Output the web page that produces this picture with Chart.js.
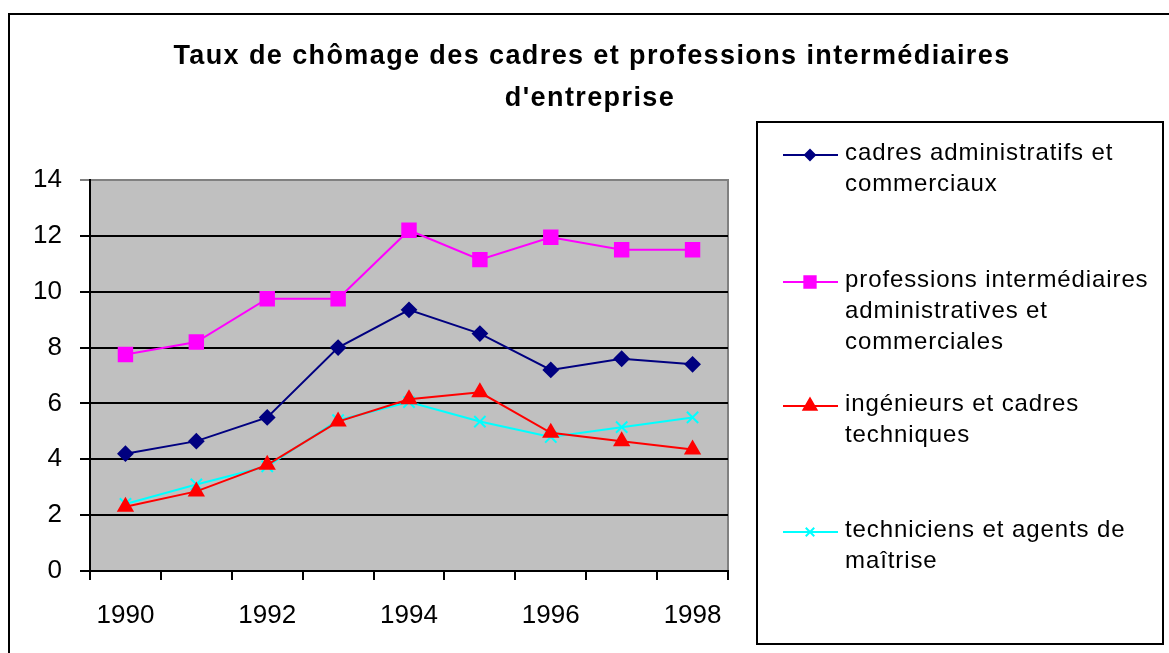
<!DOCTYPE html>
<html>
<head>
<meta charset="utf-8">
<script src="https://cdn.jsdelivr.net/npm/chart.js@4/dist/chart.umd.min.js"></script>
<style>
  html, body { margin: 0; padding: 0; background: #fff; }
  #wrap { width: 1169px; height: 653px; position: relative; }
</style>
</head>
<body>
<div id="wrap"><canvas id="chart" width="1169" height="653"></canvas></div>
<script>
// données
var annees = ['1990', '1991', '1992', '1993', '1994', '1995', '1996', '1997', '1998'];
var cadresAdmin = [4.2, 4.65, 5.5, 8.0, 9.35, 8.5, 7.2, 7.6, 7.4];
var profInter = [7.75, 8.2, 9.75, 9.75, 12.2, 11.15, 11.95, 11.5, 11.5];
var ingenieurs = [2.3, 2.85, 3.8, 5.35, 6.15, 6.4, 4.95, 4.65, 4.35];
var techniciens = [2.4, 3.1, 3.75, 5.4, 6.05, 5.35, 4.8, 5.15, 5.5];
var titre = ['Taux de chômage des cadres et professions intermédiaires', "d'entreprise"];
var libelles = [
  ['cadres administratifs et', 'commerciaux'],
  ['professions intermédiaires', 'administratives et', 'commerciales'],
  ['ingénieurs et cadres', 'techniques'],
  ['techniciens et agents de', 'maîtrise']
];
var ticksY = { min: 0, max: 14, pas: 2 };

var police = '"Liberation Sans", Arial, sans-serif';

// fond gris de la zone de tracé + cadre extérieur + titre
var decor = {
  id: 'decor',
  beforeDraw: function(chart) {
    var ctx = chart.ctx, a = chart.chartArea;
    ctx.save();
    ctx.fillStyle = '#fff';
    ctx.fillRect(0, 0, chart.width, chart.height);
    ctx.strokeStyle = '#000';
    ctx.lineWidth = 2;
    ctx.strokeRect(9, 14, 1200, 700);
    ctx.fillStyle = '#c0c0c0';
    ctx.fillRect(a.left, a.top, a.right - a.left, a.bottom - a.top);
    ctx.strokeStyle = '#808080';
    ctx.lineWidth = 2;
    ctx.beginPath();
    ctx.moveTo(a.left, a.top);
    ctx.lineTo(a.right, a.top);
    ctx.lineTo(a.right, a.bottom);
    ctx.stroke();
    ctx.fillStyle = '#000';
    ctx.font = 'bold 27px ' + police;
    if ('letterSpacing' in ctx) ctx.letterSpacing = '1.4px';
    ctx.textAlign = 'center';
    ctx.textBaseline = 'alphabetic';
    ctx.fillText(titre[0], 592, 64);
    ctx.fillText(titre[1], 590, 106);
    ctx.restore();
  },
  afterDraw: function(chart) {
    // légende dessinée à la main (libellés sur plusieurs lignes)
    var ctx = chart.ctx;
    ctx.save();
    ctx.strokeStyle = '#000';
    ctx.lineWidth = 2;
    ctx.strokeRect(757, 122, 406, 522);
    var lignesY = [155, 282, 406, 532];
    ctx.font = '24px ' + police;
    if ('letterSpacing' in ctx) ctx.letterSpacing = '0.9px';
    ctx.textAlign = 'left';
    ctx.textBaseline = 'alphabetic';
    chart.data.datasets.forEach(function(ds, i) {
      var y = lignesY[i];
      ctx.strokeStyle = ds.borderColor;
      ctx.lineWidth = 2;
      ctx.beginPath();
      ctx.moveTo(783, y);
      ctx.lineTo(838, y);
      ctx.stroke();
      ctx.fillStyle = ds.backgroundColor;
      ctx.strokeStyle = ds.borderColor;
      Chart.helpers.drawPoint(ctx, {
        pointStyle: ds.pointStyle,
        radius: ds.legendRadius,
        borderWidth: 2,
        rotation: 0
      }, 810, y);
      ctx.fillStyle = '#000';
      var lignes = libelles[i];
      for (var k = 0; k < lignes.length; k++) {
        ctx.fillText(lignes[k], 845, y + 5 + k * 31);
      }
    });
    ctx.restore();
  }
};

var ctx = document.getElementById('chart').getContext('2d');
var graphique = new Chart(ctx, {
  type: 'line',
  data: {
    labels: annees,
    datasets: [
      {
        label: libelles[0].join(' '),
        data: cadresAdmin,
        borderColor: '#000080',
        backgroundColor: '#000080',
        pointStyle: 'rectRot',
        pointRadius: 7,
        legendRadius: 5,
        borderWidth: 2
      },
      {
        label: libelles[1].join(' '),
        data: profInter,
        borderColor: '#ff00ff',
        backgroundColor: '#ff00ff',
        pointStyle: 'rect',
        pointRadius: 9.5,
        legendRadius: 8,
        borderWidth: 2
      },
      {
        label: libelles[2].join(' '),
        data: ingenieurs,
        borderColor: '#ff0000',
        backgroundColor: '#ff0000',
        pointStyle: 'triangle',
        pointRadius: 8,
        legendRadius: 7.5,
        borderWidth: 2
      },
      {
        label: libelles[3].join(' '),
        data: techniciens,
        borderColor: '#00ffff',
        backgroundColor: '#00ffff',
        pointStyle: 'crossRot',
        pointRadius: 8,
        legendRadius: 6,
        borderWidth: 2
      }
    ]
  },
  options: {
    responsive: false,
    animation: false,
    events: [],
    layout: { padding: { left: 0, top: 180, right: 441, bottom: 0 } },
    plugins: {
      legend: { display: false },
      title: { display: false },
      tooltip: { enabled: false }
    },
    elements: {
      line: { tension: 0 },
      point: { borderWidth: 2 }
    },
    scales: {
      x: {
        type: 'category',
        offset: true,
        grid: {
          offset: true,
          drawOnChartArea: false,
          drawTicks: true,
          tickLength: 9,
          color: '#000',
          lineWidth: 2
        },
        border: { color: '#000', width: 2 },
        ticks: {
          autoSkip: false,
          maxRotation: 0,
          padding: 20,
          color: '#000',
          font: { family: police, size: 26 },
          callback: function(v, i) { return i % 2 === 0 ? annees[i] : ''; }
        },
        afterFit: function(s) { s.height = 653 - 571; }
      },
      y: {
        min: ticksY.min,
        max: ticksY.max,
        grid: {
          tickLength: 10,
          lineWidth: 2,
          color: function(c) { return c.tick && c.tick.value === ticksY.max ? '#808080' : '#000'; }
        },
        border: { color: '#000', width: 2 },
        ticks: {
          stepSize: ticksY.pas,
          padding: 18,
          color: '#000',
          font: { family: police, size: 26 }
        },
        afterFit: function(s) { s.width = 90; }
      }
    }
  },
  plugins: [decor]
});
</script>
</body>
</html>
